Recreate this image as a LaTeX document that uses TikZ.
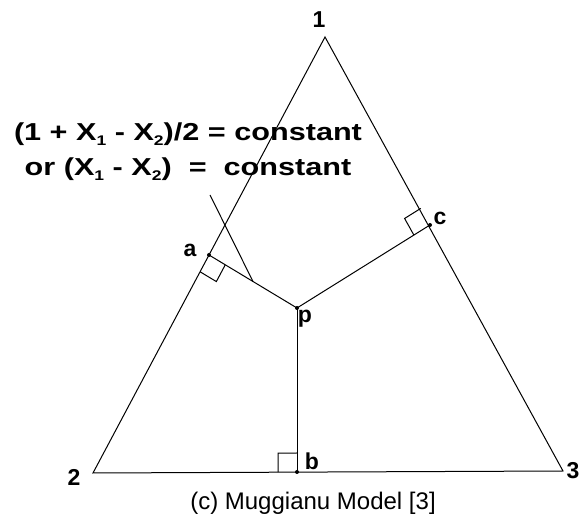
\documentclass[tikz,border=0pt]{standalone}
\usepackage{fontspec}
\setmainfont{Liberation Sans}
\newfontfamily\widefont[FakeStretch=1.25]{Liberation Sans}
\usetikzlibrary{calc}

\newcommand{\lowidx}[1]{\raisebox{-4.5pt}{\fontsize{14}{14}\selectfont #1}}

\begin{document}
\begin{tikzpicture}[x=1pt,y=-1pt,line width=1pt,
  every node/.style={font=\fontsize{23}{26}\selectfont\bfseries},
  vlabel/.style={font=\fontsize{23}{26}\selectfont\bfseries},
  footdot/.style={fill,circle,inner sep=0pt,minimum size=4pt}]
  \useasboundingbox (0,0) rectangle (582,529);
  % corners of the triangle
  \coordinate (v1) at (325,37);
  \coordinate (v2) at (93,473);
  \coordinate (v3) at (563,471);
  \draw (v1) -- (v2) -- (v3) -- cycle;
  \node[vlabel] (n1) at (319,20) {1};
  \node[vlabel] (n2) at (74,477) {2};
  \node[vlabel] (n3) at (573,471) {3};
  % point and its feet
  \node[footdot] (p) at (297,308) {};
  \node[footdot] (a) at (209,255) {};
  \node[footdot] (b) at (297,472) {};
  \node[footdot] (c) at (430,225) {};
  \draw (a.center) -- (p.center) -- (c.center);
  \draw (p.center) -- (b.center);
  \node (la) at (190,250) {a};
  \node (lb) at (312,461) {b};
  \node (lc) at (440,218) {c};
  \node (lp) at (305,319) {p};
  % right angles
  \foreach \f/\s in {a/v2,b/v2,c/v1}{
    \coordinate (u) at ($(\f.center)!19pt!(\s)$);
    \coordinate (w) at ($(\f.center)!19pt!(p.center)$);
    \draw (u) -- ($(u)+(w)-(\f.center)$) -- (w);
  }
  % line of constant composition
  \coordinate (k) at (210,195);
  \draw (k) -- ($(a.center)!0.5!(p.center)$);
  \node[font=\fontsize{24.5}{35}\widefont\bfseries,align=center] (eq) at (188,152)
    {(1 + X\lowidx{1} - X\lowidx{2})/2 = constant\\
     or (X\lowidx{1} - X\lowidx{2})\ \ =\ \ constant};
  \node[font=\fontsize{24}{28}\selectfont,anchor=base] (cap) at (313,510) {(c) Muggianu Model [3]};
\end{tikzpicture}
\end{document}
